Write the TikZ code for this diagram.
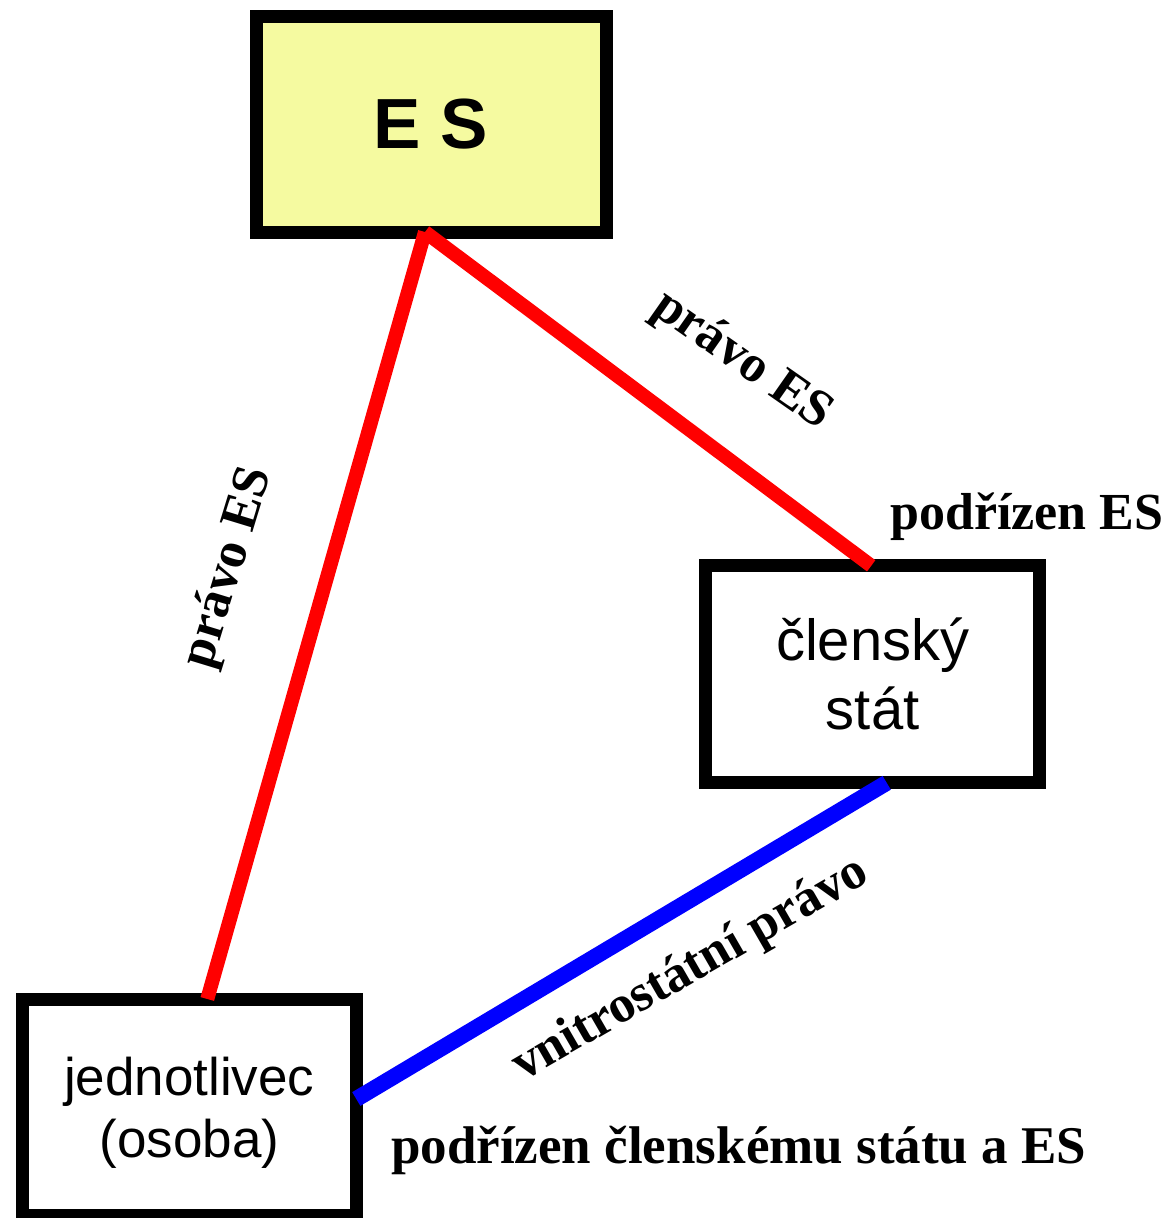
\documentclass[tikz,border=0pt]{standalone}
\usepackage{fontspec}
\newfontfamily\sansf{Liberation Sans}
\newfontfamily\seriff{Liberation Serif}
\definecolor{esyellow}{RGB}{245,250,160}
\begin{document}
\begin{tikzpicture}[x=1pt,y=-1pt,
  box/.style={draw=black, line width=13pt, rectangle, inner sep=0pt, outer sep=0pt, align=center},
  redline/.style={draw=red, line width=14pt},
  blueline/.style={draw=blue, line width=16pt},
  lbl/.style={font=\seriff\bfseries\fontsize{52pt}{60pt}\selectfont, inner sep=0pt}]
\useasboundingbox (0,0) rectangle (1173,1218);
\node[box, fill=esyellow, minimum width=350pt, minimum height=216pt,
      font=\sansf\bfseries\fontsize{71pt}{80pt}\selectfont] (es) at (431,124) {E S};
\node[box, fill=white, minimum width=334pt, minimum height=217pt,
      font=\sansf\fontsize{58pt}{69pt}\selectfont] (ms) at (872.7,674.3) {členský\\stát};
\node[box, fill=white, minimum width=334pt, minimum height=216pt, text depth=0pt,
      font=\sansf\fontsize{53pt}{61.7pt}\selectfont] (jed) at (189.3,1107) {jednotlivec\\(osoba)};
\draw[redline] ([xshift=-6pt]es.south) -- ([xshift=18pt]jed.north);
\draw[redline] ([xshift=-6pt]es.south) -- ([xshift=-1.5pt]ms.north);
\draw[blueline] ([xshift=14pt]ms.south) -- ([yshift=8pt]jed.east);
\node[lbl, rotate=73] (l1) at (229,568) {právo ES};
\node[lbl, rotate=-35] (l2) at (742,361) {právo ES};
\node[lbl, rotate=30] (l3) at (691,970) {vnitrostátní právo};
\node[lbl, anchor=base west] (l4) at (890,529.3) {podřízen ES};
\node[lbl, anchor=base west, font=\seriff\bfseries\fontsize{53pt}{60pt}\selectfont] (l5) at (391,1163.3) {podřízen členskému státu a ES};
\end{tikzpicture}
\end{document}
